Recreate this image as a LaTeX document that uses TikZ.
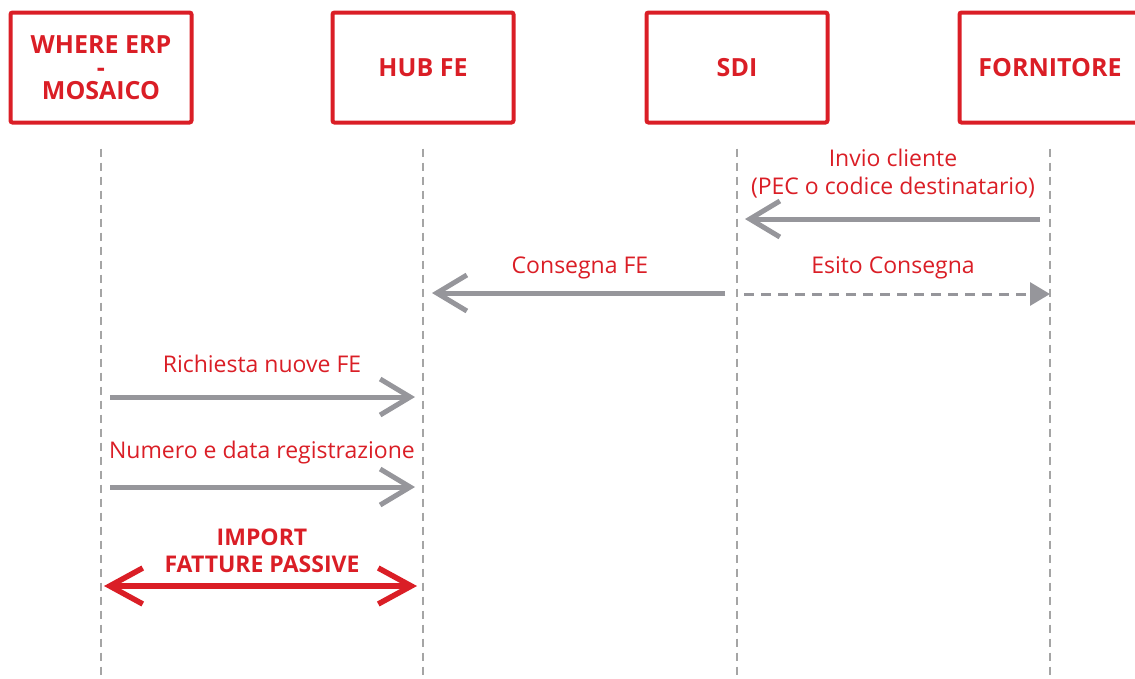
\documentclass[tikz,border=0pt]{standalone}
\usepackage{fontspec}
\setmainfont{Open Sans}
\usetikzlibrary{positioning, arrows.meta}
\definecolor{fered}{RGB}{218,30,38}
\definecolor{msggray}{RGB}{150,150,155}
\definecolor{lifegray}{RGB}{165,165,165}

\begin{document}
\begin{tikzpicture}[x=1pt, y=-1pt,
		actor/.style={draw=fered, line width=4pt, rounded corners=2pt, minimum width=181pt, minimum height=110pt, inner sep=0pt, outer sep=0pt, text=fered, font=\bfseries\fontsize{25}{23}\selectfont, align=center},
		lifeline/.style={draw=lifegray, line width=2.5pt, dash pattern=on 8pt off 6pt},
		msg/.style={draw=msggray, line width=5pt, -{Straight Barb[length=30pt, width=36pt]}},
		reply/.style={draw=msggray, line width=3pt, dash pattern=on 10pt off 7pt, -{Triangle[length=20pt, width=23pt]}},
		import/.style={draw=fered, line width=5.5pt, {Straight Barb[length=33pt, width=36pt]}-{Straight Barb[length=33pt, width=36pt]}},
		msgtext/.style={text=fered, font=\fontsize{23}{28}\selectfont, align=center},
	]
	\useasboundingbox (0,0) rectangle (1135,678);
	% partecipanti
	\node[actor] (erp) at (101,67.5) {WHERE ERP\\-\\MOSAICO};
	\node[actor, right=141pt of erp] (hub) {HUB FE};
	\node[actor, right=133pt of hub] (sdi) {SDI};
	\node[actor, right=132pt of sdi] (forn) {FORNITORE};
	\foreach \a in {erp, hub, sdi, forn}
		\draw[lifeline] ([yshift=-26pt]\a.south) -- (\a.south |- 0,678);
	% messaggi
	\draw[msg, shorten <=10pt, shorten >=8pt] (forn.south |- 0,219) -- (sdi.south |- 0,219);
	\node[msgtext] (invio) at (893,174) {Invio cliente\\(PEC o codice destinatario)};
	\draw[msg, shorten <=12pt, shorten >=9pt] (sdi.south |- 0,293) -- (hub.south |- 0,293);
	\node[msgtext] (consegna) at (580,268) {Consegna FE};
	\draw[reply, shorten <=7pt] (sdi.south |- 0,294) -- (forn.south |- 0,294);
	\node[msgtext] (esito) at (893,268) {Esito Consegna};
	\draw[msg, shorten <=9pt, shorten >=8pt] (erp.south |- 0,397) -- (hub.south |- 0,397);
	\node[msgtext] (richiesta) at (262,364) {Richiesta nuove FE};
	\draw[msg, shorten <=9pt, shorten >=8pt] (erp.south |- 0,487) -- (hub.south |- 0,487);
	\node[msgtext] (numero) at (262,453) {Numero e data registrazione};
	\draw[import, shorten <=3pt, shorten >=6pt] (erp.south |- 0,586) -- (hub.south |- 0,586);
	\node[msgtext, font=\bfseries\fontsize{23}{27}\selectfont] (importfe) at (262,551) {IMPORT\\FATTURE PASSIVE};
\end{tikzpicture}
\end{document}
